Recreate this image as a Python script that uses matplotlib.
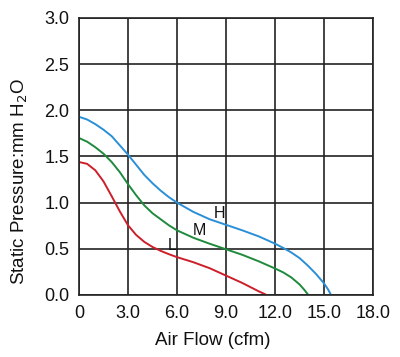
import matplotlib
matplotlib.use("Agg")
import matplotlib.pyplot as plt

plt.rcParams['font.family'] = ['Liberation Sans', 'DejaVu Sans']

# Data
h_x = [0, 0.5, 1, 1.5, 2, 2.5, 3, 3.5, 4, 4.5, 5, 5.5, 6, 7, 8, 9, 10, 11, 12, 12.5,
       13, 13.5, 14, 14.5, 15, 15.25, 15.43]
h_y = [1.93, 1.90, 1.85, 1.79, 1.72, 1.62, 1.52, 1.41, 1.30, 1.21, 1.13, 1.06, 1.00, 0.90, 0.82, 0.76, 0.70, 0.635, 0.556, 0.51,
       0.46, 0.40, 0.32, 0.23, 0.126, 0.06, 0.0]

m_x = [0, 0.5, 1, 1.5, 2, 2.5, 3, 3.5, 4, 4.5, 5, 5.5, 6, 7, 8, 9, 10, 11, 12, 12.5,
       13, 13.5, 13.8, 14.04]
m_y = [1.70, 1.66, 1.60, 1.53, 1.44, 1.33, 1.20, 1.08, 0.97, 0.885, 0.82, 0.755, 0.70, 0.62, 0.555, 0.495, 0.435, 0.365, 0.287, 0.245,
       0.19, 0.115, 0.055, 0.0]

l_x = [0, 0.5, 1, 1.5, 2, 2.5, 3, 3.5, 4, 4.5, 5, 5.5, 6, 7, 8, 9, 10, 10.5, 11, 11.49]
l_y = [1.44, 1.42, 1.35, 1.23, 1.07, 0.905, 0.755, 0.65, 0.575, 0.52, 0.478, 0.442, 0.41, 0.355, 0.29, 0.21, 0.13, 0.085, 0.04, 0.0]

x_ticks = [0, 3, 6, 9, 12, 15, 18]
x_tick_labels = ["0", "3.0", "6.0", "9.0", "12.0", "15.0", "18.0"]
y_ticks = [0, 0.5, 1.0, 1.5, 2.0, 2.5, 3.0]
y_tick_labels = ["0.0", "0.5", "1.0", "1.5", "2.0", "2.5", "3.0"]

curve_labels = ["H", "M", "L"]
label_pos = [(8.6, 0.88), (7.4, 0.70), (5.7, 0.54)]

fig = plt.figure(figsize=(4.0, 3.57), dpi=100)
ax = fig.add_axes([0.1975, 0.1737, 0.735, 0.776])

ax.plot(h_x, h_y, color="#2a8fd6", lw=1.4, solid_joinstyle="round")
ax.plot(m_x, m_y, color="#1f8a3c", lw=1.4, solid_joinstyle="round")
ax.plot(l_x, l_y, color="#cc1f2a", lw=1.4, solid_joinstyle="round")

for t, (px, py) in zip(curve_labels, label_pos):
    ax.text(px, py, t, fontsize=11.5, ha="center", va="center", color="#111111")

ax.set_xlim(0, 18)
ax.set_ylim(0, 3)
ax.set_xticks(x_ticks)
ax.set_xticklabels(x_tick_labels)
ax.set_yticks(y_ticks)
ax.set_yticklabels(y_tick_labels)
ax.tick_params(length=0, labelsize=13, pad=7, colors="#111111")
ax.grid(True, color="#222222", lw=1.2)
for s in ax.spines.values():
    s.set_color("#222222")
    s.set_linewidth(1.2)

ax.set_xlabel("Air Flow (cfm)", fontsize=13.5, color="#111111")
ax.set_ylabel("Static Pressure:mm H$_2$O", fontsize=13.5, color="#111111")
ax.xaxis.set_label_coords(0.454, -0.135)
ax.yaxis.set_label_coords(-0.165, 0.41)

fig.savefig("out.png", dpi=100)
